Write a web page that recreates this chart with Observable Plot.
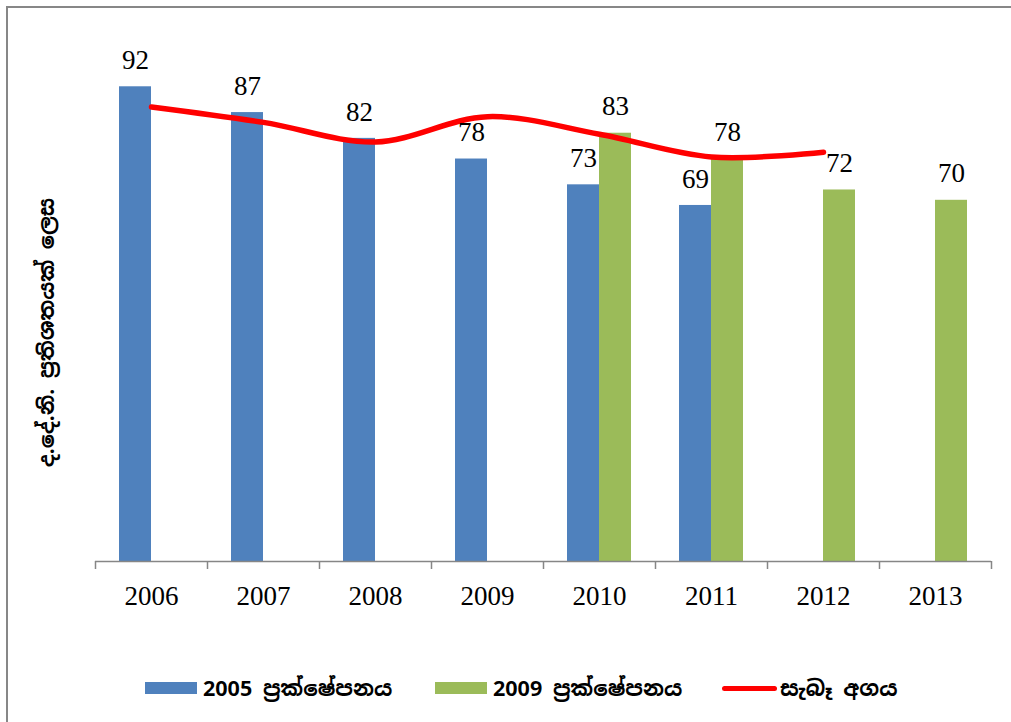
<!DOCTYPE html>
<html><head><meta charset="utf-8">
<script src="https://cdn.jsdelivr.net/npm/d3@7"></script>
<script src="https://cdn.jsdelivr.net/npm/@observablehq/plot@0.6"></script>
<style>
html,body{margin:0;padding:0;background:#fff;overflow:hidden;width:1011px;height:722px;}
#frame{position:absolute;left:6px;top:6px;width:1100px;height:800px;border:2px solid #878787;box-sizing:border-box;}
#chart{position:absolute;left:0;top:0;}
#legend{position:absolute;left:0;top:671px;width:1011px;height:34px;font:bold 21.5px "Noto Sans Sinhala","Iskoola Pota","DejaVu Sans",sans-serif;color:#000;}
.item{position:absolute;top:0;display:flex;align-items:center;height:34px;white-space:nowrap;}
.sw{width:52px;height:12px;margin-right:6px;}
.ln{width:55px;height:5px;border-radius:3px;background:#ff0000;margin-right:3px;}
</style></head><body>
<div id="frame"></div>
<div id="chart"></div>
<div id="legend"></div>
<script>
// ---- data ----
const years = ["2006","2007","2008","2009","2010","2011","2012","2013"];
const proj2005Years = ["2006","2007","2008","2009","2010","2011"];
const proj2005 = [92, 87, 82, 78, 73, 69];
const proj2009Years = ["2010","2011","2012","2013"];
const proj2009 = [83, 78, 72, 70];
const actualYears = ["2006","2007","2008","2009","2010","2011","2012"];
const actual = [88.1, 85.1, 81.3, 86.2, 82.8, 78.4, 79.3];
const seriesNames = ["2005 ප්\u200dරක්ෂේපනය", "2009 ප්\u200dරක්ෂේපනය", "සැබෑ අගය"];
const seriesColors = ["#4F81BD", "#9BBB59", "#FF0000"];
const yLabel = "ද.දේ.නි. ප්\u200dරතිශතයක් ලෙස";

const blue = proj2005Years.map((year, i) => ({year, value: proj2005[i]}));
const green = proj2009Years.map((year, i) => ({year, value: proj2009[i]}));
const act = actualYears.map((year, i) => ({year, value: actual[i]}));

const sinhala = "'Noto Sans Sinhala','Iskoola Pota','DejaVu Sans',sans-serif";

const plot = Plot.plot({
  width: 1011,
  height: 640,
  marginLeft: 95,
  marginRight: 20,
  marginTop: 45,
  marginBottom: 79,
  style: {background: "transparent", fontFamily: "'Liberation Serif', serif", fontSize: "27px", color: "#000"},
  x: {domain: years, paddingInner: 0.4286, paddingOuter: 0.2143, label: null},
  y: {domain: [0, 100], axis: null},
  marks: [
    Plot.barY(blue, {x: "year", y: "value", fill: seriesColors[0], insetRight: 32}),
    Plot.barY(green, {x: "year", y: "value", fill: seriesColors[1], insetLeft: 32}),
    Plot.ruleY([0], {stroke: "#868686", strokeWidth: 1.5}),
    Plot.ruleX(years, {x: d => d, dx: -56, y1: 0, y2: 0, insetTop: 8, stroke: "#868686", strokeWidth: 1.5}),
    Plot.ruleX([years[years.length - 1]], {x: d => d, dx: 56, y1: 0, y2: 0, insetTop: 8, stroke: "#868686", strokeWidth: 1.5}),
    Plot.axisX({tickSize: 0, tickPadding: 24, fontSize: 27, label: null}),
    Plot.line(act, {x: "year", y: "value", stroke: seriesColors[2], strokeWidth: 5.5, curve: "catmull-rom", strokeLinecap: "round"}),
    Plot.text(blue, {x: "year", y: "value", text: d => String(d.value), dx: -16, dy: -26.5, lineAnchor: "middle", fontSize: 27, fill: "#000"}),
    Plot.text(green, {x: "year", y: "value", text: d => String(d.value), dx: 16, dy: -26.5, lineAnchor: "middle", fontSize: 27, fill: "#000"}),
    Plot.text([yLabel], {frameAnchor: "left", textAnchor: "middle", rotate: -90, dx: -48, dy: 29, fontSize: 21, fontWeight: "bold", fontFamily: sinhala, fill: "#000"})
  ]
});
document.getElementById("chart").append(plot);

// ---- legend ----
const legend = document.getElementById("legend");
const lefts = [145, 435, 722];
seriesNames.forEach((name, i) => {
  const item = document.createElement("div");
  item.className = "item";
  item.style.left = lefts[i] + "px";
  const sw = document.createElement("span");
  sw.className = i === 2 ? "ln" : "sw";
  sw.style.background = seriesColors[i];
  const tx = document.createElement("span");
  tx.textContent = name;
  item.append(sw, tx);
  legend.append(item);
});
</script>
</body></html>
